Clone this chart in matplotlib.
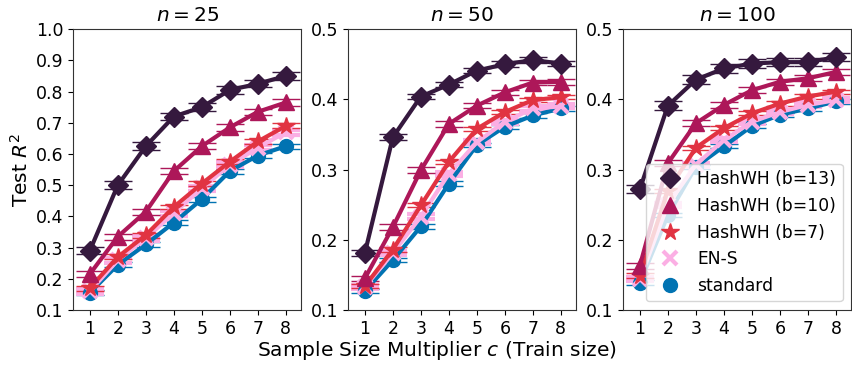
import numpy as np
import matplotlib.pyplot as plt
from matplotlib.lines import Line2D

# Données
c = [1, 2, 3, 4, 5, 6, 7, 8]
n_values = [25, 50, 100]

labels = ["standard", "EN-S", "HashWH (b=7)", "HashWH (b=10)", "HashWH (b=13)"]
colors = ["#0173b2", "#fbafe4", "#e13342", "#ad1759", "#35193e"]
markers = ["o", "x", "*", "^", "D"]
msizes = [10, 10, 13, 11, 10]

# n = 25
r2_n25 = {
    "standard": [0.155, 0.245, 0.31, 0.38, 0.455, 0.545, 0.595, 0.625],
    "EN-S": [0.16, 0.26, 0.33, 0.41, 0.49, 0.565, 0.62, 0.67],
    "HashWH (b=7)": [0.17, 0.27, 0.34, 0.43, 0.505, 0.575, 0.64, 0.69],
    "HashWH (b=10)": [0.215, 0.335, 0.415, 0.545, 0.625, 0.685, 0.735, 0.765],
    "HashWH (b=13)": [0.29, 0.50, 0.625, 0.72, 0.75, 0.805, 0.825, 0.85],
}
# n = 50
r2_n50 = {
    "standard": [0.127, 0.171, 0.219, 0.280, 0.335, 0.361, 0.377, 0.387],
    "EN-S": [0.133, 0.181, 0.233, 0.294, 0.339, 0.368, 0.387, 0.390],
    "HashWH (b=7)": [0.134, 0.186, 0.249, 0.311, 0.358, 0.382, 0.399, 0.403],
    "HashWH (b=10)": [0.145, 0.218, 0.299, 0.365, 0.391, 0.410, 0.424, 0.425],
    "HashWH (b=13)": [0.181, 0.346, 0.404, 0.421, 0.441, 0.450, 0.456, 0.451],
}
# n = 100
r2_n100 = {
    "standard": [0.139, 0.235, 0.304, 0.333, 0.362, 0.378, 0.387, 0.397],
    "EN-S": [0.144, 0.25, 0.307, 0.342, 0.368, 0.382, 0.392, 0.399],
    "HashWH (b=7)": [0.149, 0.27, 0.331, 0.359, 0.380, 0.394, 0.404, 0.411],
    "HashWH (b=10)": [0.163, 0.309, 0.366, 0.392, 0.413, 0.425, 0.430, 0.439],
    "HashWH (b=13)": [0.272, 0.391, 0.428, 0.444, 0.451, 0.453, 0.453, 0.460],
}
# demi-largeur des barres d'erreur (par panneau)
err_n25 = [0.008, 0.008, 0.008, 0.010, 0.012]
err_n50 = [0.003, 0.003, 0.003, 0.004, 0.004]
err_n100 = [0.003, 0.003, 0.003, 0.004, 0.006]

panels = [(r2_n25, err_n25, 1.0), (r2_n50, err_n50, 0.5), (r2_n100, err_n100, 0.5)]

fig, axes = plt.subplots(1, 3, figsize=(8.53, 3.69), dpi=100)
fig.subplots_adjust(left=0.0856, right=0.998, top=0.921, bottom=0.160, wspace=0.205)

for ax, n, (data, errs, ymax) in zip(axes, n_values, panels):
    for lab, col, mk, ms, e in zip(labels, colors, markers, msizes, errs):
        ax.errorbar(c, data[lab], yerr=e, color=col, marker=mk, markersize=ms,
                    mew=3 if mk == "x" else 1, linewidth=3, elinewidth=1.5,
                    capsize=10, capthick=1.5)
    ax.set_xlim(0.4, 8.55)
    ax.set_ylim(0.1, ymax)
    ax.set_xticks(c)
    ax.set_yticks(np.arange(0.1, ymax + 0.001, 0.1))
    ax.set_yticklabels([f"{v:.1f}" for v in np.arange(0.1, ymax + 0.001, 0.1)])
    ax.tick_params(labelsize=12.5)
    ax.set_title(f"$n = {n}$", fontsize=14.5)
    for s in ax.spines.values():
        s.set_color("#333333")

axes[0].set_ylabel("Test $R^2$", fontsize=14.5, labelpad=3)
fig.text(0.512, 0.02, "Sample Size Multiplier $c$ (Train size)", ha="center",
         va="bottom", fontsize=14.5)

handles = [Line2D([], [], linestyle="none", marker=mk, color=col, markersize=ms,
                  mew=3 if mk == "x" else 1)
           for col, mk, ms in zip(colors, markers, msizes)]
axes[2].legend(handles[::-1], labels[::-1], loc="lower right", fontsize=12.3,
               handletextpad=0.6)

plt.savefig("out.png")
